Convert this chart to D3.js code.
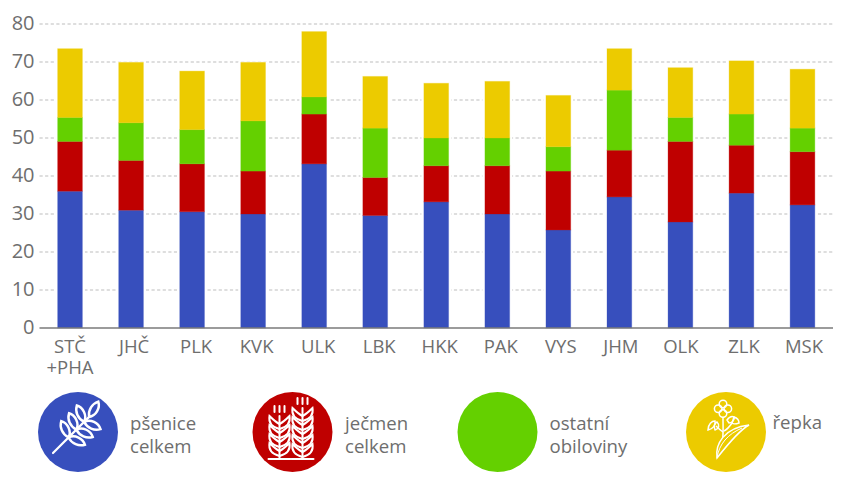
<!DOCTYPE html>
<html>
<head>
<meta charset="utf-8">
<script src="https://cdn.jsdelivr.net/npm/d3@7"></script>
<style>
  html, body { margin: 0; padding: 0; background: #fff; }
  svg { display: block; }
  text { font-family: "Open Sans", "Noto Sans", sans-serif; fill: #6e6e6e; }
</style>
</head>
<body>
<svg id="chart" width="855" height="495"></svg>
<script>
// kraje, first one has a two line label
var regions = ["STČ\n+PHA", "JHČ", "PLK", "KVK", "ULK", "LBK", "HKK", "PAK", "VYS", "JHM", "OLK", "ZLK", "MSK"];

// values, bottom to top of each stack
var psenice = [36, 31, 30.6, 30, 43.2, 29.6, 33.2, 30, 25.8, 34.5, 27.9, 35.5, 32.4];
var jecmen = [13.1, 13.1, 12.6, 11.3, 13.1, 10, 9.5, 12.7, 15.5, 12.3, 21.2, 12.6, 14];
var ostatni = [6.3, 9.9, 9, 13.2, 4.5, 13, 7.3, 7.3, 6.4, 15.8, 6.3, 8.2, 6.2];
var repka = [18.1, 15.9, 15.4, 15.4, 17.2, 13.6, 14.4, 14.9, 13.5, 10.9, 13.1, 14, 15.5];

var seriesKeys = ["psenice", "jecmen", "ostatni", "repka"];
var seriesColors = ["#374fbd", "#bf0000", "#64d000", "#eccb00"];
var seriesLabels = [["pšenice", "celkem"], ["ječmen", "celkem"], ["ostatní", "obiloviny"], ["řepka"]];
var yTicks = [0, 10, 20, 30, 40, 50, 60, 70, 80];

// the labels do not sit exactly under their bars in the original
var labelNudge = [0, 3, 4, 3.5, 4, 4, 3.5, 3.5, 2.5, 1.5, 0.5, 2.5, 1.5];

var svg = d3.select("#chart");

var x = d3.scaleBand().domain(regions).range([39.5, 833]).paddingInner(0.595).paddingOuter(0.2975);
var y = d3.scaleLinear().domain([0, 80]).range([328, 24]);
var color = d3.scaleOrdinal().domain(seriesKeys).range(seriesColors);

var rows = regions.map(function(r, i) {
  return {region: r, psenice: psenice[i], jecmen: jecmen[i], ostatni: ostatni[i], repka: repka[i]};
});
var stacked = d3.stack().keys(seriesKeys)(rows);

// y labels
var yAxis = svg.append("g")
    .attr("transform", "translate(39.5,-1)")
    .call(d3.axisLeft(y).tickValues(yTicks).tickSize(0).tickPadding(5).tickFormat(d3.format("d")));
yAxis.select(".domain").remove();
yAxis.selectAll("text").attr("font-size", 20).style("fill", "#6e6e6e");

// grid
svg.append("g").selectAll("line")
    .data(yTicks.filter(function(d) { return d > 0; }))
    .enter().append("line")
      .attr("x1", 39.5)
      .attr("x2", 833)
      .attr("y1", function(d) { return y(d); })
      .attr("y2", function(d) { return y(d); })
      .attr("stroke", "#bdbdbd")
      .attr("stroke-width", 1)
      .attr("stroke-dasharray", "3.2 2.4");

// white gap between the grid and each whole bar
svg.append("g").selectAll("rect")
    .data(stacked[stacked.length - 1])
    .enter().append("rect")
      .attr("x", function(d) { return x(d.data.region) - 2.5; })
      .attr("y", function(d) { return y(d[1]) - 1; })
      .attr("width", x.bandwidth() + 5)
      .attr("height", function(d) { return y(0) - y(d[1]) + 1; })
      .attr("fill", "#fff");

// bars
svg.append("g").selectAll("g")
  .data(stacked)
  .enter().append("g")
    .attr("fill", function(d) { return color(d.key); })
    .attr("stroke", function(d) { return color(d.key); })
    .attr("stroke-opacity", 0.3)
  .selectAll("rect")
  .data(function(d) { return d; })
  .enter().append("rect")
    .attr("x", function(d) { return x(d.data.region); })
    .attr("y", function(d) { return y(d[1]); })
    .attr("width", x.bandwidth())
    .attr("height", function(d) { return y(d[0]) - y(d[1]); });

// baseline
svg.append("line")
    .attr("x1", 39.5)
    .attr("x2", 833)
    .attr("y1", y(0))
    .attr("y2", y(0))
    .attr("stroke", "#7a7a7a")
    .attr("stroke-width", 1.6);

// x labels, split on newline
var xLabels = svg.append("g").selectAll("text")
    .data(regions)
    .enter().append("text")
      .attr("text-anchor", "middle")
      .attr("font-size", 18.5)
      .attr("transform", function(d, i) { return "translate(" + (x(d) + x.bandwidth() / 2 + labelNudge[i]) + ",353)"; });
xLabels.selectAll("tspan")
    .data(function(d) { return d.split("\n"); })
    .enter().append("tspan")
      .attr("x", 0)
      .attr("y", function(d, i) { return i * 20.5; })
      .text(function(d) { return d; });

// legend
var legendX = [78, 292.5, 497.5, 726];
var legend = svg.append("g").selectAll("g")
    .data(seriesKeys)
    .enter().append("g")
      .attr("transform", function(d, i) { return "translate(" + legendX[i] + ",432)"; });

legend.append("circle")
    .attr("r", 40)
    .attr("fill", function(d) { return color(d); });

legend.append("text")
    .attr("font-size", 18.6)
    .selectAll("tspan")
    .data(function(d, i) { return seriesLabels[i]; })
    .enter().append("tspan")
      .attr("x", 52)
      .attr("y", function(d, i) { return -2.5 + i * 23.5; })
      .text(function(d) { return d; });
legend.filter(function(d) { return d == "repka"; }).select("tspan").attr("x", 46.5).attr("y", -3);
legend.filter(function(d) { return d == "jecmen"; }).selectAll("tspan").attr("x", 52.5);

// icons are plain white outlines
var line = function(g, a, b, c, d, w) {
  g.append("line").attr("x1", a).attr("y1", b).attr("x2", c).attr("y2", d)
    .attr("stroke", "#fff").attr("stroke-width", w || 1.6).attr("stroke-linecap", "round");
};
var grain = "M0,0C-4,-3,-5,-8,-3,-12C1,-10,3,-4,0,0Z";

var wheat = legend.filter(function(d) { return d == "psenice"; }).append("g")
    .attr("transform", "translate(-25,21) rotate(45)")
    .attr("fill", "none").attr("stroke", "#fff").attr("stroke-width", 1.7);
line(wheat, 0, 0, 0, -50, 2.2);
[-22, -33, -44].forEach(function(v) {
  wheat.append("path").attr("d", grain).attr("transform", "translate(0," + v + ") rotate(-55) scale(1.45)");
  wheat.append("path").attr("d", grain).attr("transform", "translate(0," + v + ") rotate(55) scale(-1.45,1.45)");
});
wheat.append("path").attr("d", grain).attr("transform", "translate(0,-51) scale(1.45)");

var barley = legend.filter(function(d) { return d == "jecmen"; }).append("g")
    .attr("fill", "none").attr("stroke", "#fff").attr("stroke-width", 2);
[[-13, -16], [10, -24]].forEach(function(s) {
  var bx = s[0], top = s[1];
  line(barley, bx, top, bx, 27, 2);
  for (var v = top + 8; v < 24; v += 9) {
    barley.append("path").attr("d", "M" + bx + "," + v + "c-4,-2,-7,-5,-10,-8c-1,6,2,11,10,13");
    barley.append("path").attr("d", "M" + bx + "," + v + "c4,-2,7,-5,10,-8c1,6,-2,11,-10,13");
  }
  [-5, 0, 5].forEach(function(o) {
    line(barley, bx + o, top - 10, bx + o, top - 4, 2);
  });
  line(barley, bx - 11, 27, bx + 11, 27, 2);
});

var flower = legend.filter(function(d) { return d == "repka"; }).append("g")
    .attr("fill", "none").attr("stroke", "#fff").attr("stroke-width", 1.5);
[[-3, -28], [-3, -18.5], [-7.8, -23.2], [1.8, -23.2]].forEach(function(c) {
  flower.append("circle").attr("cx", c[0]).attr("cy", c[1]).attr("r", 3.8);
});
flower.append("path").attr("d", "M-3,-15C-3,-2,-2,8,-6,15");
flower.append("path").attr("d", "M-3,0C-6,-2,-8,-4,-10,-6");
flower.append("path").attr("d", "M-2,-1C2,-3,4,-6,6,-9");
flower.append("path").attr("d", "M-18,-2C-18,-8,-14,-11,-11,-11C-10,-7,-13,-3,-18,-2Z");
flower.append("path").attr("d", "M-11,-2C-13,-6,-11,-9,-9,-10C-6,-7,-7,-3,-11,-2Z");
flower.append("path").attr("d", "M1,-12C4,-16,6,-16,8,-15C9,-12,6,-9,3,-9Z");
flower.append("path").attr("d", "M8,-15C11,-14,13,-12,13,-9C10,-8,7,-8,6,-9Z");
flower.append("path").attr("d", "M-9,26C-11,12,-2,-4,23,-7C14,-2,2,12,-9,26Z").attr("fill", "#eccb00");
flower.append("path").attr("d", "M-9,26C-7,12,2,2,16,-4").attr("stroke-width", 1);
</script>
</body>
</html>
